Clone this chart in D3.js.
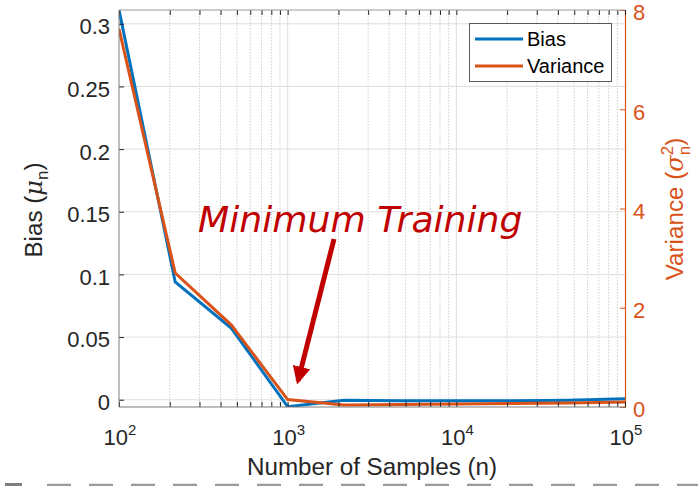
<!DOCTYPE html>
<html>
<head>
<meta charset="utf-8">
<script src="https://cdn.jsdelivr.net/npm/d3@7"></script>
<style>
  html, body { margin: 0; padding: 0; background: #fff; }
  svg { display: block; font-family: "Liberation Sans", Arial, Helvetica, sans-serif; }
</style>
</head>
<body>
<svg id="chart" width="698" height="486"></svg>
<script>
// Sample counts (log-spaced) and the two measured curves
const samples = [100, 215.4, 464.2, 1000, 2154.4, 4641.6, 10000, 21544, 46416, 100000];
const bias = [0.311, 0.094, 0.057, -0.0055, -0.0005, -0.0008, -0.0009, -0.0009, -0.0005, 0.0007];
const variance = [7.62, 2.70, 1.65, 0.15, 0.04, 0.05, 0.06, 0.07, 0.08, 0.10];

const biasTicks = [0, 0.05, 0.1, 0.15, 0.2, 0.25, 0.3];
const biasTickLabels = ["0", "0.05", "0.1", "0.15", "0.2", "0.25", "0.3"];
const varianceTicks = [0, 2, 4, 6, 8];
const sampleTicks = [100, 1000, 10000, 100000];
const sampleTickExponents = ["2", "3", "4", "5"];
const seriesNames = ["Bias", "Variance"];

const BLUE = "#0072BD", ORANGE = "#D95319", AXIS = "#262626", RED = "#C00000";
const pL = 119, pR = 625, pT = 10, pB = 407;

const svg = d3.select("#chart");

const x = d3.scaleLog().domain([100, 100000]).range([pL, pR]);
const yL = d3.scaleLinear().domain([-0.0058, 0.311]).range([pB, pT]);
const yR = d3.scaleLinear().domain([0, 8]).range([pB, pT]);

// Grid: major horizontal lines (left axis), major + dotted minor verticals
const minorX = [];
for (let e = 2; e < 5; e++) for (let m = 2; m <= 9; m++) minorX.push(m * Math.pow(10, e));
const grid = svg.append("g");
grid.selectAll("line.minor").data(minorX).join("line")
  .attr("x1", d => x(d)).attr("x2", d => x(d)).attr("y1", pT).attr("y2", pB)
  .attr("stroke", "#cfcfcf").attr("stroke-width", 1).attr("stroke-dasharray", "1.5,1.5");
grid.selectAll("line.majx").data(sampleTicks.slice(1, -1)).join("line")
  .attr("x1", d => x(d)).attr("x2", d => x(d)).attr("y1", pT).attr("y2", pB)
  .attr("stroke", "#dedede").attr("stroke-width", 1);
grid.selectAll("line.majy").data(biasTicks).join("line")
  .attr("x1", pL).attr("x2", pR).attr("y1", d => yL(d)).attr("y2", d => yL(d))
  .attr("stroke", "#dedede").attr("stroke-width", 1);

// Curves
svg.append("clipPath").attr("id", "plotclip").append("rect")
  .attr("x", pL).attr("y", pT).attr("width", pR - pL).attr("height", pB - pT);
const lineL = d3.line().x((d, i) => x(samples[i])).y(d => yL(d));
const lineR = d3.line().x((d, i) => x(samples[i])).y(d => yR(d));
const plot = svg.append("g").attr("clip-path", "url(#plotclip)");
plot.append("path").datum(bias).attr("d", lineL)
  .attr("fill", "none").attr("stroke", BLUE).attr("stroke-width", 3).attr("stroke-linejoin", "miter");
plot.append("path").datum(variance).attr("d", lineR)
  .attr("fill", "none").attr("stroke", ORANGE).attr("stroke-width", 3).attr("stroke-linejoin", "miter");

// Axes with inward ticks
const fontTick = 22;
const gL = svg.append("g").attr("transform", `translate(${pL},0)`)
  .call(d3.axisLeft(yL).tickValues(biasTicks).tickFormat((d, i) => biasTickLabels[i])
    .tickSize(-5).tickPadding(9));
const gR = svg.append("g").attr("transform", `translate(${pR},0)`)
  .call(d3.axisRight(yR).tickValues(varianceTicks).tickSize(-5).tickPadding(8));
const gB = svg.append("g").attr("transform", `translate(0,${pB})`)
  .call(d3.axisBottom(x).tickValues(sampleTicks.concat(minorX)).tickFormat("").tickSize(-5));
const gT = svg.append("g").attr("transform", `translate(0,${pT})`)
  .call(d3.axisTop(x).tickValues(sampleTicks.concat(minorX)).tickFormat("").tickSize(-5));

[gL, gB, gT].forEach(g => {
  g.select(".domain").remove();
  g.selectAll(".tick line").attr("stroke", AXIS);
  g.selectAll("text").attr("fill", AXIS).attr("font-size", fontTick).attr("font-family", "Liberation Sans, Arial, sans-serif");
});
gR.select(".domain").attr("stroke", ORANGE).attr("stroke-width", 1.2);
gR.selectAll(".tick line").attr("stroke", ORANGE);
gR.selectAll("text").attr("fill", ORANGE).attr("font-size", fontTick).attr("font-family", "Liberation Sans, Arial, sans-serif");
// vertical tick labels sit slightly below their tick
gL.selectAll(".tick text").attr("dy", "0.45em");
gR.selectAll(".tick text").attr("dy", "0.45em");

// Frame lines (left, bottom, top)
svg.append("line").attr("x1", pL).attr("x2", pL).attr("y1", pT).attr("y2", pB).attr("stroke", "#7a7a7a");
svg.append("line").attr("x1", pL).attr("x2", pR).attr("y1", pB).attr("y2", pB).attr("stroke", "#7a7a7a");
svg.append("line").attr("x1", pL).attr("x2", pR).attr("y1", pT).attr("y2", pT).attr("stroke", "#9a9a9a");

// Decade labels 10^k
const xl = svg.append("g");
sampleTicks.forEach((t, i) => {
  const txt = xl.append("text").attr("x", x(t) + 1).attr("y", 445)
    .attr("text-anchor", "middle").attr("fill", AXIS).attr("font-size", fontTick);
  txt.append("tspan").text("10");
  txt.append("tspan").attr("font-size", 15).attr("dy", -10).text(sampleTickExponents[i]);
});

// Axis titles
svg.append("text").attr("x", (pL + pR) / 2).attr("y", 475)
  .attr("text-anchor", "middle").attr("fill", AXIS).attr("font-size", 24.2)
  .text("Number of Samples (n)");

const yt = svg.append("text").attr("transform", "translate(42,210) rotate(-90)")
  .attr("text-anchor", "middle").attr("fill", AXIS).attr("font-size", 24.2);
yt.append("tspan").text("Bias (");
yt.append("tspan").attr("font-style", "italic").attr("font-family", "DejaVu Serif, serif").text("μ");
yt.append("tspan").attr("font-size", 17).attr("dy", 6).text("n");
yt.append("tspan").attr("dy", -6).text(")");

const rt = svg.append("text").attr("transform", "translate(683,209) rotate(-90)")
  .attr("text-anchor", "middle").attr("fill", ORANGE).attr("font-size", 24.2);
rt.append("tspan").text("Variance (");
rt.append("tspan").attr("font-style", "italic").attr("font-family", "DejaVu Serif, serif").text("σ");
rt.append("tspan").attr("font-size", 17).attr("dy", -10).text("2");
rt.append("tspan").attr("font-size", 17).attr("dx", -9.5).attr("dy", 17).text("n");
rt.append("tspan").attr("dy", -7).text(")");

// Legend
const legend = svg.append("g");
legend.append("rect").attr("x", 469.5).attr("y", 23.5).attr("width", 142).attr("height", 58)
  .attr("fill", "#fff").attr("stroke", "#5a5a5a").attr("stroke-width", 1);
[BLUE, ORANGE].forEach((c, i) => {
  const yy = 39 + i * 27;
  legend.append("line").attr("x1", 475).attr("x2", 523).attr("y1", yy).attr("y2", yy)
    .attr("stroke", c).attr("stroke-width", 3);
  legend.append("text").attr("x", 527).attr("y", yy + 7).attr("fill", "#000")
    .attr("font-size", 20).text(seriesNames[i]);
});

// Annotation with arrow toward the n = 10^3 point
const defs = svg.append("defs");
defs.append("marker").attr("id", "head").attr("viewBox", "0 0 10 10")
  .attr("refX", 8).attr("refY", 5).attr("markerWidth", 3.6).attr("markerHeight", 3.6)
  .attr("markerUnits", "strokeWidth").attr("orient", "auto")
  .append("path").attr("d", "M0,0 L10,5 L0,10 Z").attr("fill", RED);
svg.append("line").attr("x1", 334).attr("y1", 239).attr("x2", 298).attr("y2", 381)
  .attr("stroke", RED).attr("stroke-width", 5).attr("marker-end", "url(#head)");
svg.append("text").attr("x", 198).attr("y", 232)
  .attr("font-family", "DejaVu Sans, Verdana, sans-serif").attr("font-style", "italic")
  .attr("font-size", 36.2).attr("fill", RED).text("Minimum Training");

// Dashed rule along the bottom edge
svg.append("rect").attr("x", 5).attr("y", 483).attr("width", 17).attr("height", 3).attr("fill", "#7f7f7f");
svg.append("line").attr("x1", 47).attr("x2", 698).attr("y1", 485).attr("y2", 485)
  .attr("stroke", "#9a9a9a").attr("stroke-width", 2.5).attr("stroke-dasharray", "24,18");
</script>
</body>
</html>
